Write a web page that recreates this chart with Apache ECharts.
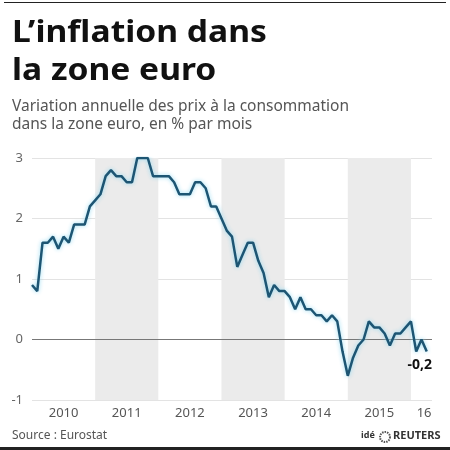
<!DOCTYPE html>
<html>
<head>
<meta charset="utf-8">
<script src="https://cdn.jsdelivr.net/npm/echarts@6/dist/echarts.min.js"></script>
<style>
	html, body { margin: 0; padding: 0; background: #fff; }
	#chart { width: 450px; height: 450px; }
</style>
</head>
<body>
<div id="chart"></div>
<script>
// Zone euro, inflation annuelle (%), janv. 2010 -> avr. 2016
var inflation = [
	0.9, 0.8, 1.6, 1.6, 1.7, 1.5, 1.7, 1.6, 1.9, 1.9, 1.9, 2.2,
	2.3, 2.4, 2.7, 2.8, 2.7, 2.7, 2.6, 2.6, 3.0, 3.0, 3.0, 2.7,
	2.7, 2.7, 2.7, 2.6, 2.4, 2.4, 2.4, 2.6, 2.6, 2.5, 2.2, 2.2,
	2.0, 1.8, 1.7, 1.2, 1.4, 1.6, 1.6, 1.3, 1.1, 0.7, 0.9, 0.8,
	0.8, 0.7, 0.5, 0.7, 0.5, 0.5, 0.4, 0.4, 0.3, 0.4, 0.3, -0.2,
	-0.6, -0.3, -0.1, 0.0, 0.3, 0.2, 0.2, 0.1, -0.1, 0.1, 0.1, 0.2,
	0.3, -0.2, 0.0, -0.2
];
var yearLabels = ["2010", "2011", "2012", "2013", "2014", "2015", "16"];
var yearLabelAt = [6, 18, 30, 42, 54, 66, 74.5]; // en mois depuis janv. 2010
var shadedYears = [[12, 24], [36, 48], [60, 72]]; // 2011, 2013, 2015

var myChart = echarts.init(document.getElementById("chart"), null, { renderer: "canvas" });

var lastIdx = inflation.length - 1;
var lastVal = inflation[lastIdx];

var option = {
	animation: false,
	grid: { left: 32, right: 18, top: 158, bottom: 50 },
	xAxis: {
		type: "value",
		min: 0,
		max: 76,
		axisLine: { show: false },
		axisTick: { show: false },
		splitLine: { show: false },
		axisLabel: {
			customValues: yearLabelAt,
			formatter: function (v) { return yearLabels[yearLabelAt.indexOf(v)] || ""; },
			color: "#555",
			fontFamily: "Noto Sans",
			fontSize: 13,
			margin: 7
		}
	},
	yAxis: {
		type: "value",
		min: -1,
		max: 3,
		interval: 1,
		axisLine: { show: false },
		axisTick: { show: false },
		splitLine: { lineStyle: { color: "#e3e3e3", width: 1 } },
		axisLabel: {
			color: "#666",
			fontFamily: "Noto Sans",
			fontSize: 13,
			margin: 9
		}
	},
	series: [
		{
			type: "line",
			data: inflation.map(function (v, i) { return [i, v]; }),
			symbol: "none",
			z: 5,
			lineStyle: {
				color: "#1d5573",
				width: 2.5,
				shadowColor: "rgba(140,215,240,0.95)",
				shadowBlur: 4
			},
			markArea: {
				silent: true,
				itemStyle: { color: "#ebebeb" },
				data: shadedYears.map(function (r) {
					return [{ xAxis: r[0] }, { xAxis: r[1] }];
				})
			},
			markLine: {
				silent: true,
				symbol: "none",
				label: { show: false },
				lineStyle: { color: "#777", width: 1, type: "solid" },
				data: [{ yAxis: 0 }]
			},
			// étiquette de la dernière valeur
			markPoint: {
				silent: true,
				symbol: "circle",
				symbolSize: 1,
				itemStyle: { color: "rgba(0,0,0,0)" },
				label: {
					show: true,
					position: "bottom",
					distance: 6,
					offset: [-7, 0],
					formatter: function (o) { return String(o.value).replace(".", ","); },
					fontFamily: "Noto Sans",
					fontWeight: "bold",
					fontSize: 14,
					color: "#111"
				},
				data: [{ coord: [lastIdx, lastVal], value: lastVal }]
			}
		}
	],
	graphic: [
		{ type: "rect", shape: { x: 4, y: 2, width: 442, height: 1 }, style: { fill: "#222" } },
		{ type: "rect", shape: { x: 0, y: 447, width: 450, height: 3 }, style: { fill: "#222" } },
		{
			type: "text", x: 12, y: 18, scaleX: 1.12,
			style: { text: "L\u2019inflation dans", font: "bold 30px 'Noto Sans'", fill: "#111" }
		},
		{
			type: "text", x: 12, y: 56, scaleX: 1.12,
			style: { text: "la zone euro", font: "bold 30px 'Noto Sans'", fill: "#111" }
		},
		{
			type: "text", x: 12, y: 99,
			style: { text: "Variation annuelle des prix \u00e0 la consommation", font: "15.5px 'Noto Sans'", fill: "#555" }
		},
		{
			type: "text", x: 12, y: 117,
			style: { text: "dans la zone euro, en % par mois", font: "15.5px 'Noto Sans'", fill: "#555" }
		},
		{
			type: "text", x: 12, y: 430,
			style: { text: "Source : Eurostat", font: "12px 'Noto Sans'", fill: "#555" }
		},
		{
			type: "text", x: 361, y: 431,
			style: { text: "id\u00e9", font: "bold 9px 'Noto Sans'", fill: "#333" }
		},
		{
			type: "circle", shape: { cx: 385, cy: 437, r: 5 },
			style: { fill: "none", stroke: "#555", lineWidth: 2, lineDash: [1.5, 1] }
		},
		{
			type: "text", x: 393, y: 430,
			style: { text: "REUTERS", font: "bold 11px 'Noto Sans'", fill: "#333" }
		}
	]
};
myChart.setOption(option);
window.addEventListener("resize", myChart.resize);
</script>
</body>
</html>
